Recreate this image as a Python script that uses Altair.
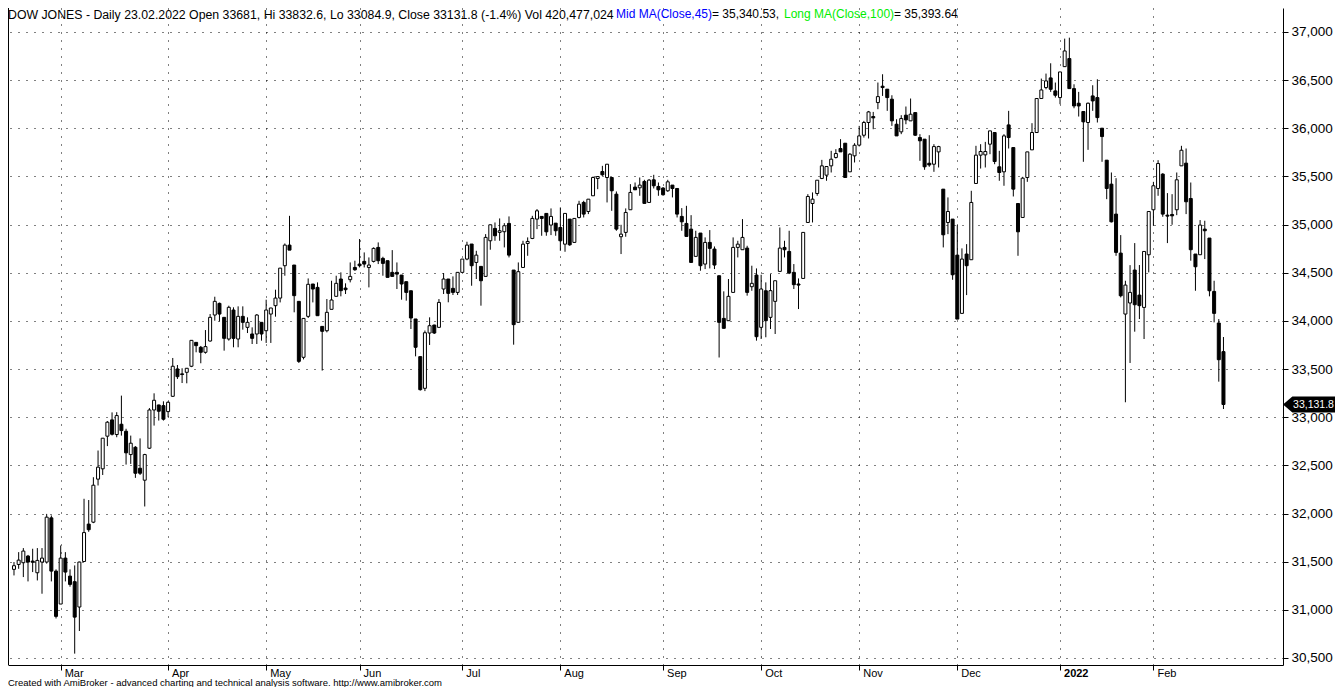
import altair as alt
import pandas as pd

# ---------------- data ----------------
trading_days = {
    "2021-02": [12, 16, 17, 18, 19, 22, 23, 24, 25, 26],
    "2021-03": [1, 2, 3, 4, 5, 8, 9, 10, 11, 12, 15, 16, 17, 18, 19, 22, 23, 24, 25, 26, 29, 30, 31],
    "2021-04": [1, 5, 6, 7, 8, 9, 12, 13, 14, 15, 16, 19, 20, 21, 22, 23, 26, 27, 28, 29, 30],
    "2021-05": [3, 4, 5, 6, 7, 10, 11, 12, 13, 14, 17, 18, 19, 20, 21, 24, 25, 26, 27, 28],
    "2021-06": [1, 2, 3, 4, 7, 8, 9, 10, 11, 14, 15, 16, 17, 18, 21, 22, 23, 24, 25, 28, 29, 30],
    "2021-07": [1, 2, 6, 7, 8, 9, 12, 13, 14, 15, 16, 19, 20, 21, 22, 23, 26, 27, 28, 29, 30],
    "2021-08": [2, 3, 4, 5, 6, 9, 10, 11, 12, 13, 16, 17, 18, 19, 20, 23, 24, 25, 26, 27, 30, 31],
    "2021-09": [1, 2, 3, 7, 8, 9, 10, 13, 14, 15, 16, 17, 20, 21, 22, 23, 24, 27, 28, 29, 30],
    "2021-10": [1, 4, 5, 6, 7, 8, 11, 12, 13, 14, 15, 18, 19, 20, 21, 22, 25, 26, 27, 28, 29],
    "2021-11": [1, 2, 3, 4, 5, 8, 9, 10, 11, 12, 15, 16, 17, 18, 19, 22, 23, 24, 26, 29, 30],
    "2021-12": [1, 2, 3, 6, 7, 8, 9, 10, 13, 14, 15, 16, 17, 20, 21, 22, 23, 27, 28, 29, 30, 31],
    "2022-01": [3, 4, 5, 6, 7, 10, 11, 12, 13, 14, 18, 19, 20, 21, 24, 25, 26, 27, 28, 31],
    "2022-02": [1, 2, 3, 4, 7, 8, 9, 10, 11, 14, 15, 16, 17, 18, 22, 23],
}

opens = [
    31420, 31471, 31489, 31558, 31506, 31385, 31496, 31496, 31955, 31402,
    31060, 31537, 31350, 31292, 31029, 31502, 31890, 31910, 32357, 32464, 32803, 32972, 32820, 32927, 32854, 32612, 32688, 32470, 32346, 32678, 33075, 33127, 33120,
    33058, 33217, 33501, 33450, 33466, 33529, 33777, 33726, 33674, 33791, 34061, 34182, 34037, 33812, 34113, 33812, 34047, 33933, 33864, 33864, 33985,
    33898, 34071, 34158, 34237, 34573, 34787, 34580, 34203, 33622, 34047, 34383, 34348, 33943, 33898, 34120, 34255, 34435, 34341, 34428, 34555,
    34590, 34618, 34555, 34618, 34763, 34649, 34625, 34504, 34504, 34476, 34407, 34313, 34020, 33629, 33300, 33874, 33957, 33933, 34331, 34435, 34338, 34296,
    34504, 34642, 34798, 34607, 34566, 34462, 34832, 34960, 34919, 34926, 35012, 34528, 33985, 34555, 34804, 34856, 35057, 35085, 35116, 34995, 35015,
    34970, 34797, 35057, 34815, 35074, 35230, 35136, 35299, 35479, 35551, 35489, 35489, 35316, 34874, 34919, 35154, 35389, 35382, 35448, 35230, 35465, 35396,
    35379, 35351, 35410, 35375, 35085, 35012, 34953, 34670, 34912, 34590, 34815, 34746, 34469, 34026, 34002, 34296, 34763, 34739, 34756, 34355, 34476,
    33933, 34313, 34037, 34203, 34514, 34763, 34721, 34504, 34383, 34441, 35022, 35219, 35323, 35479, 35513, 35610, 35697, 35790, 35845, 35548, 35714,
    35825, 35928, 36060, 36122, 36267, 36437, 36406, 36302, 36042, 35963, 36136, 36077, 36163, 35904, 35887, 35637, 35627, 35755, 35368, 35022, 35057,
    34683, 34078, 34694, 34635, 35427, 35721, 35724, 35835, 35956, 35600, 35548, 36035, 35800, 35219, 35074, 35489, 35776, 35956, 36309, 36423, 36523, 36388,
    36319, 36640, 36724, 36412, 36260, 36174, 36060, 36336, 36319, 36001, 35669, 35420, 35109, 34704, 34071, 34186, 34528, 34268, 34140, 34687,
    35154, 35375, 35524, 35098, 35105, 35154, 35610, 35638, 35271, 34694, 34687, 34953, 34860, 34306, 33978, 33681,
]
highs = [
    31496, 31599, 31641, 31570, 31634, 31641, 31641, 31996, 31980, 31420,
    31668, 31599, 31420, 31461, 31500, 32153, 32140, 32377, 32654, 32782, 32960, 33050, 33052, 33224, 32880, 32809, 32700, 32780, 32620, 33095, 33248, 33130, 33165,
    33165, 33615, 33542, 33508, 33510, 33800, 33780, 33740, 33905, 34071, 34251, 34190, 34040, 34158, 34141, 34151, 34151, 34037, 33933, 34071, 33985,
    34220, 34135, 34324, 34548, 34804, 35091, 34580, 34203, 34030, 34441, 34383, 34400, 33943, 34227, 34417, 34469, 34504, 34390, 34607, 34625,
    34850, 34711, 34659, 34763, 34815, 34666, 34625, 34735, 34607, 34476, 34407, 34313, 34020, 33629, 33900, 34037, 33960, 34227, 34497, 34435, 34462, 34504,
    34642, 34822, 34798, 34728, 34566, 34901, 34998, 35022, 35064, 35015, 35085, 34528, 34607, 34832, 34867, 35091, 35161, 35085, 35116, 35168, 35015,
    35178, 35116, 35057, 35064, 35247, 35247, 35264, 35499, 35499, 35610, 35627, 35489, 35344, 34998, 35168, 35420, 35437, 35489, 35465, 35472, 35517, 35437,
    35390, 35465, 35410, 35375, 35171, 35195, 35098, 34936, 34912, 34867, 34943, 34773, 34469, 34307, 34435, 34867, 34832, 35057, 34780, 34573, 34545,
    34479, 34400, 34486, 34417, 34970, 34832, 34936, 34590, 34441, 34919, 35316, 35334, 35461, 35672, 35603, 35766, 35783, 35887, 35845, 35742, 35845,
    36025, 36077, 36180, 36170, 36475, 36561, 36406, 36343, 36094, 36136, 36226, 36309, 36163, 35939, 35887, 35928, 35835, 35818, 35368, 35282, 35057,
    34994, 34753, 34797, 35351, 35818, 35835, 35859, 35973, 35956, 35766, 35939, 36181, 35800, 35219, 35496, 35755, 36053, 36309, 36516, 36568, 36675, 36475,
    36585, 36931, 36941, 36457, 36378, 36174, 36267, 36447, 36509, 36001, 35669, 35541, 35482, 34891, 34417, 34579, 34808, 34580, 34721, 35136,
    35444, 35669, 35534, 35327, 35316, 35541, 35818, 35790, 35437, 34694, 35047, 35040, 34860, 34417, 34019, 33832.6,
]
lows = [
    31357, 31426, 31340, 31295, 31392, 31305, 31167, 31480, 31295, 30910,
    31060, 31295, 31240, 30545, 30780, 31500, 31810, 31900, 32291, 32400, 32700, 32810, 32792, 32809, 32508, 32515, 32370, 32400, 32073, 32670, 32913, 32965, 32965,
    33000, 33210, 33397, 33355, 33352, 33520, 33674, 33560, 33660, 33785, 34002, 33995, 33691, 33795, 33726, 33726, 33909, 33874, 33760, 33760, 33795,
    33771, 33771, 34044, 34192, 34469, 34735, 34089, 33563, 33600, 34030, 34192, 34054, 33484, 33881, 34120, 34255, 34255, 34279, 34400, 34520,
    34555, 34555, 34348, 34607, 34590, 34469, 34452, 34462, 34331, 34220, 34210, 33916, 33632, 33276, 33271, 33750, 33864, 33933, 34279, 34193, 34269, 34269,
    34504, 34630, 34365, 34435, 34158, 34462, 34739, 34832, 34832, 34763, 34659, 33753, 33985, 34555, 34676, 34849, 34953, 34884, 34884, 34891, 34884,
    34728, 34718, 34780, 34815, 35064, 35074, 35109, 35299, 35368, 35506, 35230, 35143, 34936, 34694, 34874, 35154, 35361, 35299, 35220, 35230, 35375, 35299,
    35300, 35340, 35282, 35074, 34936, 34877, 34607, 34670, 34521, 34538, 34545, 34538, 33620, 33923, 34002, 34296, 34659, 34739, 34262, 34313, 33795,
    33812, 33830, 33916, 33864, 34514, 34659, 34486, 34331, 34123, 34441, 35022, 35022, 35299, 35472, 35455, 35541, 35686, 35755, 35489, 35548, 35645,
    35811, 35904, 35894, 35990, 36198, 36336, 36181, 36025, 35921, 35939, 36042, 36077, 35921, 35662, 35569, 35600, 35548, 35593, 34763, 34901, 34427,
    34019, 34078, 34268, 34635, 35427, 35582, 35593, 35731, 35627, 35455, 35403, 35790, 35292, 34676, 35074, 35444, 35776, 35956, 36309, 36405, 36378, 36319,
    36250, 36640, 36412, 36208, 36122, 35652, 35776, 36181, 36060, 35652, 35264, 35022, 34676, 34244, 33155, 33563, 33888, 34019, 33812, 34504,
    34988, 35299, 35081, 34808, 34998, 35098, 35610, 35109, 34625, 34313, 34687, 34642, 34255, 33985, 33369, 33084.9,
]
closes = [
    31458, 31516, 31610, 31496, 31494, 31513, 31537, 31962, 31402, 30932,
    31537, 31392, 31264, 30924, 31496, 31802, 31832, 32294, 32481, 32782, 32948, 32823, 33017, 32861, 32630, 32730, 32418, 32418, 32612, 33075, 33176, 33062, 32979,
    33155, 33529, 33421, 33443, 33508, 33798, 33743, 33674, 33733, 34037, 34203, 34071, 33819, 34141, 33819, 34047, 33985, 33985, 33819, 34061, 33864,
    34113, 34134, 34237, 34548, 34787, 34735, 34262, 33580, 34026, 34380, 34331, 34054, 33892, 34089, 34217, 34390, 34314, 34324, 34462, 34531,
    34573, 34590, 34580, 34753, 34625, 34597, 34452, 34462, 34486, 34383, 34296, 34030, 33726, 33286, 33877, 33950, 33874, 34192, 34435, 34286, 34296, 34504,
    34642, 34787, 34573, 34683, 34417, 34867, 34998, 34884, 34936, 34988, 34683, 33961, 34511, 34797, 34825, 35064, 35143, 35064, 34925, 35085, 34936,
    34832, 35116, 34790, 35064, 35212, 35109, 35264, 35489, 35499, 35517, 35627, 35351, 34953, 34901, 35126, 35334, 35361, 35410, 35220, 35462, 35403, 35361,
    35310, 35444, 35375, 35109, 35029, 34877, 34607, 34867, 34573, 34815, 34753, 34580, 33985, 33923, 34255, 34763, 34797, 34867, 34296, 34390, 33836,
    34331, 34002, 34314, 34417, 34756, 34739, 34497, 34376, 34372, 34919, 35292, 35264, 35461, 35610, 35603, 35679, 35738, 35755, 35489, 35731, 35824,
    35921, 36060, 36170, 36108, 36329, 36423, 36319, 36077, 35921, 36101, 36087, 36146, 35928, 35870, 35600, 35619, 35810, 35810, 34894, 35136, 34479,
    34019, 34642, 34573, 35230, 35721, 35759, 35759, 35973, 35655, 35541, 35921, 35904, 35368, 34925, 35482, 35755, 35956, 36309, 36398, 36492, 36405, 36343,
    36585, 36803, 36412, 36232, 36232, 36067, 36260, 36284, 36111, 35914, 35375, 35029, 34711, 34261, 34372, 34296, 34168, 34158, 34721, 35136,
    35403, 35634, 35109, 35088, 35091, 35465, 35772, 35237, 34739, 34562, 34995, 34936, 34313, 34078, 33597, 33131.8,
]

month_labels = ["Mar", "Apr", "May", "Jun", "Jul", "Aug", "Sep", "Oct", "Nov", "Dec", "2022", "Feb"]
y_ticks = [30500, 31000, 31500, 32000, 32500, 33000, 33500, 34000, 34500, 35000, 35500, 36000, 36500, 37000]

header_main = "DOW JONES - Daily 23.02.2022 Open 33681, Hi 33832.6, Lo 33084.9, Close 33131.8 (-1.4%) Vol 420,477,024"
header_mid = "Mid MA(Close,45)"
header_mid_val = " = 35,340.53,"
header_long = "Long MA(Close,100)"
header_long_val = " = 35,393.64"
footer = "Created with AmiBroker - advanced charting and technical analysis software. http://www.amibroker.com"

# ---------------- build tables ----------------
dates = []
for ym, ds in trading_days.items():
    for d in ds:
        dates.append(f"{ym}-{d:02d}")

df = pd.DataFrame({
    "i": list(range(1, len(dates) + 1)),
    "date": dates,
    "open": opens,
    "high": highs,
    "low": lows,
    "close": closes,
})
df["high"] = df[["high", "open", "close"]].max(axis=1)
df["low"] = df[["low", "open", "close"]].min(axis=1)

# first trading day of each month (from March 2021 on)
month_first = []
seen = set()
for k, dt in enumerate(dates):
    ym = dt[:7]
    if ym not in seen:
        seen.add(ym)
        month_first.append(k + 1)
month_first = month_first[1:]
months_df = pd.DataFrame({"i": month_first, "label": month_labels})

last_df = pd.DataFrame({"c": [closes[-1]]})

# ---------------- layout ----------------
W, H = 1275, 657
PAD_R, PAD_B = 52, 22
FONT = "Liberation Sans"
x_scale = alt.Scale(domain=[0.7875, 271.68], nice=False, zero=False)
y_scale = alt.Scale(domain=[30427, 37249], nice=False, zero=False)

x_axis = alt.Axis(values=month_first, labels=False, ticks=True, tickSize=5, tickColor="black",
                  domainColor="black", grid=True, gridDash=[1, 7], gridColor="black",
                  gridOpacity=1, title=None)
y_axis = alt.Axis(orient="right", values=y_ticks, format=",d", tickSize=5, tickColor="black",
                  domainColor="black", labelColor="black", labelFont=FONT, labelFontSize=13.5,
                  labelPadding=3, grid=True, gridDash=[1, 7], gridColor="black",
                  gridOpacity=1, title=None)


def X(field):
    return alt.X(field, type="quantitative", scale=x_scale, axis=x_axis)


def Y(field):
    return alt.Y(field, type="quantitative", scale=y_scale, axis=y_axis)


base = alt.Chart(df)
wicks = base.mark_rule(color="black", strokeWidth=1).encode(
    x=X("i"), y=Y("low"), y2="high:Q")
bodies = base.mark_bar(size=3, stroke="black", strokeWidth=1).encode(
    x=X("i"), y=Y("open"), y2="close:Q",
    fill=alt.condition("datum.close >= datum.open", alt.value("white"), alt.value("black")))

left_border = alt.Chart(alt.Data(values=[{}])).mark_rule(color="black", strokeWidth=1).encode(
    x=alt.value(0.5), y=alt.value(0), y2=alt.value(H))

months = alt.Chart(months_df).transform_filter("datum.label != '2022'").mark_text(
    align="left", baseline="middle", dx=4, fontSize=11, font=FONT, color="black").encode(
    x=X("i"), y=alt.value(H + 9), text="label:N")
year = alt.Chart(months_df).transform_filter("datum.label == '2022'").mark_text(
    align="left", baseline="middle", dx=4, fontSize=11, font=FONT, color="black",
    fontWeight="bold").encode(
    x=X("i"), y=alt.value(H + 9), text="label:N")


def txt(s, x, color, y=1, size=12, baseline="top"):
    return alt.Chart(alt.Data(values=[{}])).mark_text(
        align="left", baseline=baseline, fontSize=size, font=FONT, color=color).encode(
        x=alt.value(x), y=alt.value(y), text=alt.value(s))


header = [
    txt(header_main, 0, "black", size=12.3),
    txt(header_mid, 608, "#0000ff"),
    txt(header_mid_val, 704, "black"),
    txt(header_long, 776, "#00ee00"),
    txt(header_long_val, 886, "black"),
]
foot = txt(footer, 0, "black", y=H + 20.5, size=9.5, baseline="alphabetic")

tag_w = 52
tag_shape = "M-1,0L-0.64,-0.31L1,-0.31L1,0.31L-0.64,0.31Z"
tag = alt.Chart(last_df).mark_point(shape=tag_shape, filled=True, color="black", opacity=1,
                                    size=tag_w * tag_w).encode(
    x=alt.value(W + tag_w / 2), y=Y("c"))
tag_text = alt.Chart(last_df).mark_text(align="center", baseline="middle", fontSize=10.5,
                                        font=FONT, color="white").encode(
    x=alt.value(W + 30.5), y=Y("c"), text=alt.Text("c:Q", format=",.1f"))

chart = alt.layer(wicks, bodies, left_border, months, year, *header, foot, tag, tag_text).properties(
    width=W, height=H,
    padding={"left": 0, "top": 0, "right": PAD_R, "bottom": PAD_B},
    autosize=alt.AutoSizeParams(type="none"),
    background="white",
).configure_view(stroke=None)

chart.save("out.html", embed_options={"renderer": "svg", "actions": False})
